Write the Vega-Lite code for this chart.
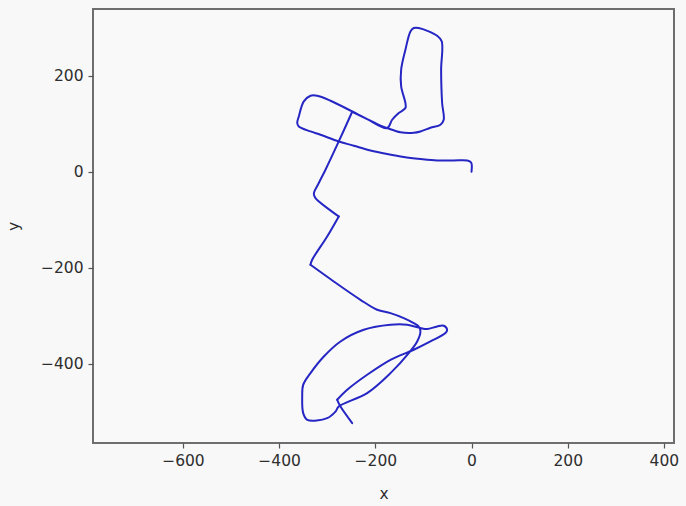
{
  "$schema": "https://vega.github.io/schema/vega-lite/v6.json",
  "autosize": {"type": "none"},
  "width": 581,
  "height": 434,
  "padding": {"left": 93, "top": 9, "right": 12, "bottom": 63},
  "background": "#f8f8f8",
  "config": {
    "view": {"fill": "#f9f9f9", "stroke": "#6e6e6e", "strokeWidth": 2},
    "font": "DejaVu Sans",
    "axis": {
      "domain": false,
      "grid": false,
      "ticks": true,
      "tickSize": 5,
      "tickWidth": 1.2,
      "tickColor": "#555555",
      "labelFont": "DejaVu Sans",
      "labelFontSize": 15.5,
      "labelColor": "#2e2e2e",
      "labelPadding": 5,
      "titleFont": "DejaVu Sans",
      "titleFontSize": 15.5,
      "titleFontWeight": "normal",
      "titleColor": "#2e2e2e"
    }
  },
  "data": {
    "values": [
      {"seg": "A", "i": 1, "x": 0, "y": 0},
      {"seg": "A", "i": 2, "x": -0.8, "y": 19.4},
      {"seg": "A", "i": 3, "x": -9.1, "y": 23.5},
      {"seg": "A", "i": 4, "x": -37.0, "y": 23.5},
      {"seg": "A", "i": 5, "x": -71.5, "y": 23.5},
      {"seg": "A", "i": 6, "x": -106.2, "y": 26.5},
      {"seg": "A", "i": 7, "x": -140.9, "y": 30.6},
      {"seg": "A", "i": 8, "x": -175.4, "y": 36.9},
      {"seg": "A", "i": 9, "x": -210.1, "y": 44.4},
      {"seg": "A", "i": 10, "x": -244.8, "y": 54.2},
      {"seg": "A", "i": 11, "x": -276.0, "y": 63.1},
      {"seg": "A", "i": 12, "x": -314.0, "y": 77.1},
      {"seg": "A", "i": 13, "x": -334.8, "y": 84.0},
      {"seg": "A", "i": 14, "x": -359.1, "y": 94.4},
      {"seg": "A", "i": 15, "x": -362.4, "y": 101.5},
      {"seg": "A", "i": 16, "x": -359.1, "y": 115.2},
      {"seg": "A", "i": 17, "x": -348.7, "y": 146.5},
      {"seg": "A", "i": 18, "x": -334.8, "y": 158.3},
      {"seg": "A", "i": 19, "x": -320.9, "y": 158.3},
      {"seg": "A", "i": 20, "x": -293.2, "y": 147.9},
      {"seg": "A", "i": 21, "x": -248.1, "y": 125.6},
      {"seg": "A", "i": 22, "x": -217.0, "y": 109.8},
      {"seg": "A", "i": 23, "x": -175.4, "y": 91.0},
      {"seg": "A", "i": 24, "x": -165.0, "y": 108.3},
      {"seg": "A", "i": 25, "x": -151.3, "y": 122.3},
      {"seg": "A", "i": 26, "x": -137.4, "y": 132.7},
      {"seg": "A", "i": 27, "x": -137.4, "y": 143.1},
      {"seg": "A", "i": 28, "x": -146.3, "y": 177.7},
      {"seg": "A", "i": 29, "x": -146.3, "y": 212.5},
      {"seg": "A", "i": 30, "x": -137.4, "y": 254.2},
      {"seg": "A", "i": 31, "x": -127.0, "y": 292.3},
      {"seg": "A", "i": 32, "x": -120.1, "y": 299.4},
      {"seg": "A", "i": 33, "x": -109.7, "y": 299.4},
      {"seg": "A", "i": 34, "x": -71.5, "y": 283.3},
      {"seg": "A", "i": 35, "x": -61.9, "y": 271.5},
      {"seg": "A", "i": 36, "x": -63.2, "y": 212.5},
      {"seg": "A", "i": 37, "x": -61.1, "y": 143.1},
      {"seg": "A", "i": 38, "x": -57.8, "y": 108.3},
      {"seg": "A", "i": 39, "x": -64.6, "y": 97.9},
      {"seg": "A", "i": 40, "x": -85.4, "y": 91.5},
      {"seg": "A", "i": 41, "x": -106.2, "y": 84.0},
      {"seg": "A", "i": 42, "x": -120.1, "y": 81.3},
      {"seg": "A", "i": 43, "x": -147.8, "y": 82.3},
      {"seg": "A", "i": 44, "x": -175.4, "y": 91.0},
      {"seg": "A", "i": 45, "x": -189.3, "y": 95.8},
      {"seg": "A", "i": 46, "x": -217.0, "y": 109.8},
      {"seg": "A", "i": 47, "x": -248.1, "y": 125.0},
      {"seg": "B", "i": 47, "x": -248.1, "y": 125.0},
      {"seg": "B", "i": 48, "x": -276.0, "y": 63.1},
      {"seg": "B", "i": 49, "x": -303.6, "y": 4.2},
      {"seg": "B", "i": 50, "x": -317.5, "y": -23.5},
      {"seg": "B", "i": 51, "x": -327.9, "y": -45.8},
      {"seg": "B", "i": 52, "x": -324.4, "y": -54.8},
      {"seg": "B", "i": 53, "x": -276.0, "y": -93.1},
      {"seg": "C", "i": 53, "x": -276.0, "y": -93.1},
      {"seg": "C", "i": 54, "x": -300.1, "y": -134.8},
      {"seg": "C", "i": 55, "x": -331.3, "y": -183.3},
      {"seg": "C", "i": 56, "x": -334.8, "y": -193.8},
      {"seg": "D", "i": 56, "x": -334.8, "y": -193.8},
      {"seg": "D", "i": 57, "x": -286.4, "y": -228.5},
      {"seg": "D", "i": 58, "x": -230.9, "y": -266.7},
      {"seg": "D", "i": 59, "x": -196.2, "y": -287.5},
      {"seg": "D", "i": 60, "x": -168.5, "y": -294.4},
      {"seg": "D", "i": 61, "x": -140.9, "y": -304.8},
      {"seg": "D", "i": 62, "x": -120.1, "y": -315.2},
      {"seg": "D", "i": 63, "x": -109.7, "y": -322.3},
      {"seg": "D", "i": 64, "x": -106.2, "y": -332.7},
      {"seg": "D", "i": 65, "x": -113.0, "y": -353.5},
      {"seg": "D", "i": 66, "x": -130.5, "y": -377.7},
      {"seg": "D", "i": 67, "x": -168.5, "y": -419.4},
      {"seg": "D", "i": 68, "x": -217.0, "y": -461.0},
      {"seg": "D", "i": 69, "x": -276.0, "y": -489.0},
      {"seg": "D", "i": 70, "x": -282.8, "y": -499.4},
      {"seg": "D", "i": 71, "x": -300.1, "y": -513.1},
      {"seg": "D", "i": 72, "x": -341.6, "y": -516.7},
      {"seg": "D", "i": 73, "x": -350.0, "y": -502.7},
      {"seg": "D", "i": 74, "x": -352.0, "y": -468.1},
      {"seg": "D", "i": 75, "x": -350.0, "y": -443.8},
      {"seg": "D", "i": 76, "x": -334.8, "y": -419.4},
      {"seg": "D", "i": 77, "x": -307.1, "y": -384.8},
      {"seg": "D", "i": 78, "x": -272.4, "y": -353.5},
      {"seg": "D", "i": 79, "x": -224.0, "y": -329.2},
      {"seg": "D", "i": 80, "x": -168.5, "y": -318.8},
      {"seg": "D", "i": 81, "x": -133.8, "y": -318.8},
      {"seg": "D", "i": 82, "x": -106.2, "y": -325.6},
      {"seg": "D", "i": 83, "x": -92.3, "y": -327.7},
      {"seg": "D", "i": 84, "x": -71.5, "y": -322.3},
      {"seg": "D", "i": 85, "x": -57.8, "y": -320.8},
      {"seg": "D", "i": 86, "x": -50.7, "y": -329.2},
      {"seg": "D", "i": 87, "x": -54.2, "y": -336.0},
      {"seg": "D", "i": 88, "x": -85.4, "y": -353.5},
      {"seg": "D", "i": 89, "x": -120.1, "y": -370.8},
      {"seg": "D", "i": 90, "x": -168.5, "y": -391.7},
      {"seg": "D", "i": 91, "x": -217.0, "y": -422.9},
      {"seg": "D", "i": 92, "x": -258.5, "y": -454.2},
      {"seg": "D", "i": 93, "x": -279.3, "y": -475.0},
      {"seg": "E", "i": 93, "x": -279.3, "y": -475.0},
      {"seg": "E", "i": 94, "x": -272.4, "y": -489.0},
      {"seg": "E", "i": 95, "x": -248.1, "y": -523.5}
    ]
  },
  "mark": {"type": "line", "color": "#2626c4", "strokeWidth": 2, "interpolate": "catmull-rom", "strokeJoin": "round", "strokeCap": "round", "clip": true},
  "encoding": {
    "detail": {"field": "seg", "type": "nominal"},
    "order": {"field": "i", "type": "quantitative"},
    "x": {
      "field": "x",
      "type": "quantitative",
      "scale": {"domain": [-787, 421], "nice": false, "zero": false},
      "axis": {"values": [-600, -400, -200, 0, 200, 400], "format": "d", "title": "x", "titlePadding": 18}
    },
    "y": {
      "field": "y",
      "type": "quantitative",
      "scale": {"domain": [-565, 339], "nice": false, "zero": false},
      "axis": {"values": [-400, -200, 0, 200], "format": "d", "title": "y", "titlePadding": 19}
    }
  }
}
